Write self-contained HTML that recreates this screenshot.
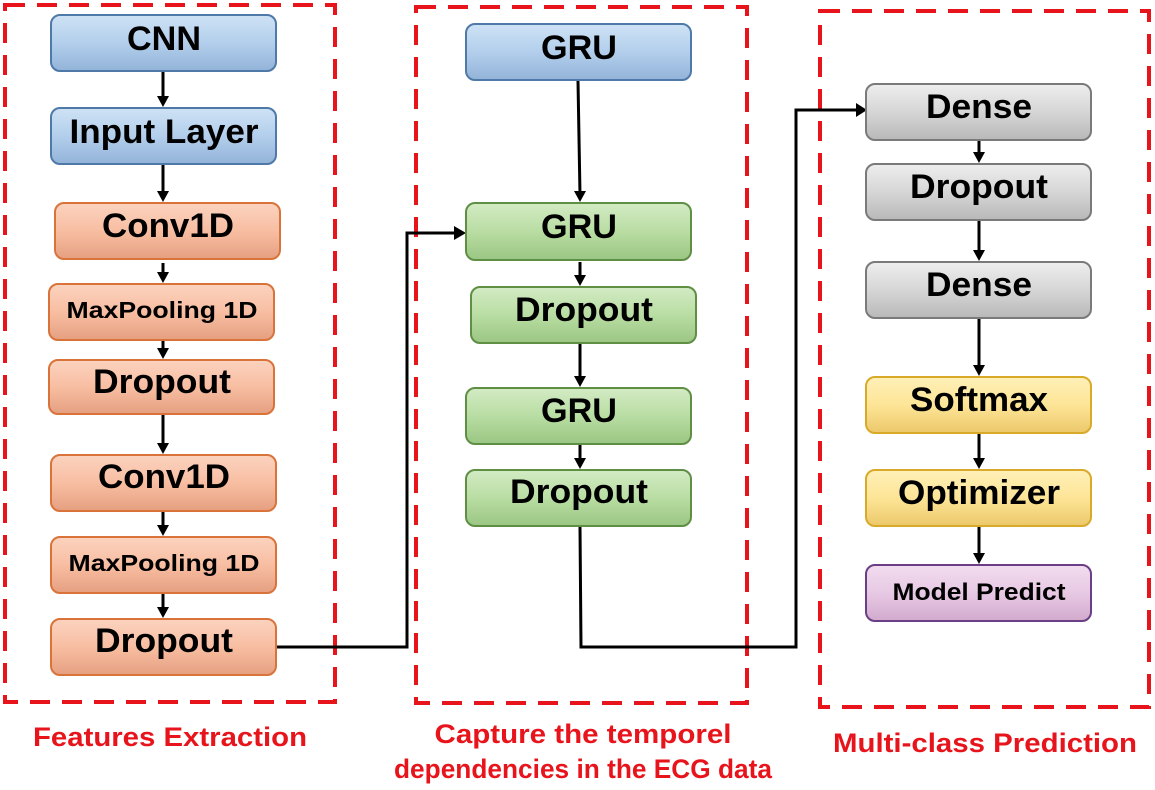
<!DOCTYPE html>
<html><head><meta charset="utf-8"><style>
html,body{margin:0;padding:0;background:#fff;}
svg{display:block;font-family:"Liberation Sans",Arial,sans-serif;font-weight:bold;}
</style></head><body>
<svg width="1155" height="790" viewBox="0 0 1155 790" xmlns="http://www.w3.org/2000/svg">
<defs>
<linearGradient id="gb" x1="0" y1="0" x2="0" y2="1"><stop offset="0" stop-color="#cfe2f5"/><stop offset="0.5" stop-color="#b3cfec"/><stop offset="1" stop-color="#92b3d8"/></linearGradient>
<linearGradient id="go" x1="0" y1="0" x2="0" y2="1"><stop offset="0" stop-color="#fbd3bf"/><stop offset="0.5" stop-color="#f8bea2"/><stop offset="1" stop-color="#e59f80"/></linearGradient>
<linearGradient id="gg" x1="0" y1="0" x2="0" y2="1"><stop offset="0" stop-color="#d3ebc4"/><stop offset="0.5" stop-color="#b9dda3"/><stop offset="1" stop-color="#9ac682"/></linearGradient>
<linearGradient id="gr" x1="0" y1="0" x2="0" y2="1"><stop offset="0" stop-color="#eeeeee"/><stop offset="0.5" stop-color="#d6d6d6"/><stop offset="1" stop-color="#b8b8b8"/></linearGradient>
<linearGradient id="gy" x1="0" y1="0" x2="0" y2="1"><stop offset="0" stop-color="#fff0b8"/><stop offset="0.5" stop-color="#fde597"/><stop offset="1" stop-color="#ecc86a"/></linearGradient>
<linearGradient id="gp" x1="0" y1="0" x2="0" y2="1"><stop offset="0" stop-color="#f2dcef"/><stop offset="0.5" stop-color="#e7c9e4"/><stop offset="1" stop-color="#d2aacd"/></linearGradient>
</defs>
<g fill="none" stroke="#e8141c" stroke-width="4" stroke-dasharray="20,12">
<rect x="5" y="5" width="330" height="697"/>
<rect x="416" y="7" width="331" height="696"/>
<rect x="820" y="11" width="329" height="696"/>
</g>
<g stroke="#000" stroke-width="3" fill="none">
<line x1="163" y1="71" x2="163" y2="100"/>
<line x1="163" y1="164" x2="163" y2="195"/>
<line x1="163" y1="263" x2="163" y2="276"/>
<line x1="163" y1="341" x2="163" y2="352"/>
<line x1="163" y1="414" x2="163" y2="447"/>
<line x1="163" y1="512" x2="163" y2="529"/>
<line x1="163" y1="594" x2="163" y2="611"/>
<polyline points="277,647 407,647 407,233 458,233"/>
<line x1="578" y1="81" x2="580" y2="195"/>
<line x1="580" y1="262" x2="580" y2="279"/>
<line x1="580" y1="343" x2="580" y2="380"/>
<line x1="580" y1="445" x2="580" y2="462"/>
<polyline points="580,527 581,647 796,647 796,110 860,110"/>
<line x1="979" y1="141" x2="979" y2="156"/>
<line x1="979" y1="221" x2="979" y2="254"/>
<line x1="979" y1="319" x2="979" y2="369"/>
<line x1="979" y1="434" x2="979" y2="462"/>
<line x1="979" y1="527" x2="979" y2="557"/>
</g>
<g fill="#000">
<path d="M157,96 L169,96 L163,107z"/><path d="M157,191 L169,191 L163,202z"/><path d="M157,272 L169,272 L163,283z"/><path d="M157,348 L169,348 L163,359z"/><path d="M157,443 L169,443 L163,454z"/><path d="M157,525 L169,525 L163,536z"/><path d="M157,607 L169,607 L163,618z"/>
<path d="M454,226 L466,233 L454,240z"/><path d="M856,103 L867,110 L856,117z"/>
<path d="M574,191 L586,191 L580,202z"/><path d="M574,275 L586,275 L580,286z"/><path d="M574,376 L586,376 L580,387z"/><path d="M574,458 L586,458 L580,469z"/>
<path d="M973,152 L985,152 L979,163z"/><path d="M973,250 L985,250 L979,261z"/><path d="M973,365 L985,365 L979,376z"/><path d="M973,458 L985,458 L979,469z"/><path d="M973,553 L985,553 L979,564z"/>
</g>
<g stroke-width="2">
<rect x="51" y="15" width="225" height="56" rx="9" fill="url(#gb)" stroke="#4f79a8"/>
<rect x="51" y="108" width="225" height="56" rx="9" fill="url(#gb)" stroke="#4f79a8"/>
<rect x="55" y="203" width="225" height="56" rx="9" fill="url(#go)" stroke="#d9733a"/>
<rect x="49" y="284" width="225" height="56" rx="9" fill="url(#go)" stroke="#d9733a"/>
<rect x="49" y="360" width="225" height="54" rx="9" fill="url(#go)" stroke="#d9733a"/>
<rect x="51" y="455" width="225" height="56" rx="9" fill="url(#go)" stroke="#d9733a"/>
<rect x="51" y="537" width="225" height="56" rx="9" fill="url(#go)" stroke="#d9733a"/>
<rect x="51" y="619" width="225" height="56" rx="9" fill="url(#go)" stroke="#d9733a"/>
<rect x="466" y="24" width="225" height="56" rx="9" fill="url(#gb)" stroke="#4f79a8"/>
<rect x="466" y="203" width="225" height="57" rx="9" fill="url(#gg)" stroke="#5f8f45"/>
<rect x="471" y="287" width="225" height="56" rx="9" fill="url(#gg)" stroke="#5f8f45"/>
<rect x="466" y="388" width="225" height="56" rx="9" fill="url(#gg)" stroke="#5f8f45"/>
<rect x="466" y="470" width="225" height="56" rx="9" fill="url(#gg)" stroke="#5f8f45"/>
<rect x="866" y="84" width="225" height="56" rx="9" fill="url(#gr)" stroke="#7a7a7a"/>
<rect x="866" y="164" width="225" height="56" rx="9" fill="url(#gr)" stroke="#7a7a7a"/>
<rect x="866" y="262" width="225" height="56" rx="9" fill="url(#gr)" stroke="#7a7a7a"/>
<rect x="866" y="377" width="225" height="56" rx="9" fill="url(#gy)" stroke="#d9aa2a"/>
<rect x="866" y="470" width="225" height="56" rx="9" fill="url(#gy)" stroke="#d9aa2a"/>
<rect x="866" y="565" width="225" height="56" rx="9" fill="url(#gp)" stroke="#6a3f86"/>
</g>
<g fill="#000" text-anchor="middle" font-size="34" lengthAdjust="spacingAndGlyphs">
<text x="164" y="50" textLength="74" lengthAdjust="spacingAndGlyphs">CNN</text>
<text x="164" y="143" textLength="189" lengthAdjust="spacingAndGlyphs">Input Layer</text>
<text x="168" y="237" textLength="132" lengthAdjust="spacingAndGlyphs">Conv1D</text>
<text x="162" y="318" font-size="23" textLength="191" lengthAdjust="spacingAndGlyphs">MaxPooling 1D</text>
<text x="162" y="393" textLength="138" lengthAdjust="spacingAndGlyphs">Dropout</text>
<text x="164" y="488" textLength="132" lengthAdjust="spacingAndGlyphs">Conv1D</text>
<text x="164" y="571" font-size="23" textLength="191" lengthAdjust="spacingAndGlyphs">MaxPooling 1D</text>
<text x="164" y="652" textLength="138" lengthAdjust="spacingAndGlyphs">Dropout</text>
<text x="579" y="59" textLength="76" lengthAdjust="spacingAndGlyphs">GRU</text>
<text x="579" y="238" textLength="76" lengthAdjust="spacingAndGlyphs">GRU</text>
<text x="584" y="321" textLength="138" lengthAdjust="spacingAndGlyphs">Dropout</text>
<text x="579" y="422" textLength="76" lengthAdjust="spacingAndGlyphs">GRU</text>
<text x="579" y="503" textLength="138" lengthAdjust="spacingAndGlyphs">Dropout</text>
<text x="979" y="118" textLength="106" lengthAdjust="spacingAndGlyphs">Dense</text>
<text x="979" y="198" textLength="138" lengthAdjust="spacingAndGlyphs">Dropout</text>
<text x="979" y="296" textLength="106" lengthAdjust="spacingAndGlyphs">Dense</text>
<text x="979" y="411" textLength="138" lengthAdjust="spacingAndGlyphs">Softmax</text>
<text x="979" y="504" textLength="162" lengthAdjust="spacingAndGlyphs">Optimizer</text>
<text x="979" y="600" font-size="24" textLength="173" lengthAdjust="spacingAndGlyphs">Model Predict</text>
</g>
<g fill="#e8141c" text-anchor="middle" font-size="27">
<text x="170" y="746" textLength="274" lengthAdjust="spacingAndGlyphs">Features Extraction</text>
<text x="583" y="743" textLength="297" lengthAdjust="spacingAndGlyphs">Capture the temporel</text>
<text x="583" y="778" textLength="378" lengthAdjust="spacingAndGlyphs">dependencies in the ECG data</text>
<text x="985" y="752" textLength="304" lengthAdjust="spacingAndGlyphs">Multi-class Prediction</text>
</g>
</svg>
</body></html>
